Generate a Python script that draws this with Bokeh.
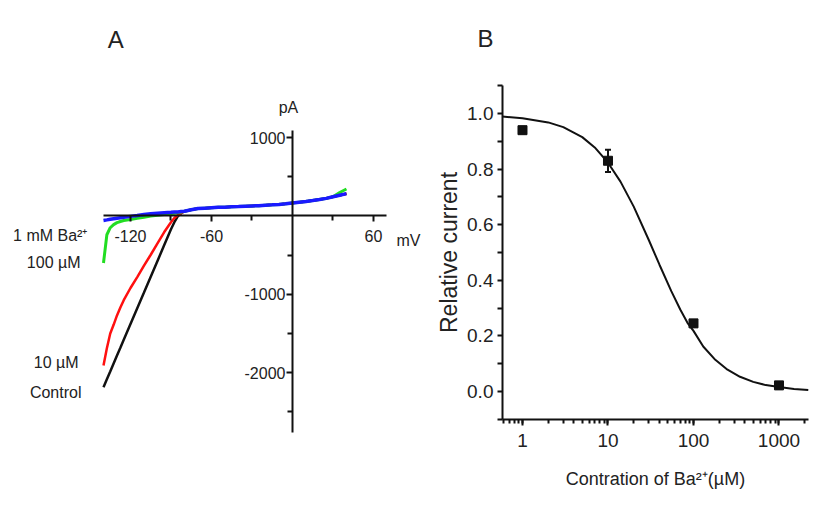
from bokeh.plotting import figure
from bokeh.layouts import row
from bokeh.models import (FixedTicker, LogTicker, PrintfTickFormatter, Label,
                          ColumnDataSource, Whisker, TeeHead)
from bokeh.embed import file_html
from bokeh.resources import INLINE

FONT = "Liberation Sans"
TXT = "#222222"

# ---------------- Panel A data (I-V curves) ----------------
voltage_mv = [-140, -137.5, -135, -132.5, -130, -127.5, -125, -120, -115, -110,
              -105, -100, -95, -90, -87.5, -85, -82.5,
              -80, -75, -70, -65, -60, -55, -50, -45, -40, -35, -30, -25, -20,
              -15, -10, -5, 0, 5, 10, 15, 20, 25, 30, 35, 40]
flat_part = [60, 80, 95, 100, 105, 110, 113, 117, 120, 124, 128, 132, 137,
             142, 148, 155, 165, 175, 185, 197, 210, 225, 245, 265, 285]
control_pa = [-2186, -2085, -1985, -1884, -1783, -1683, -1582, -1380, -1178, -977,
              -775, -574, -372, -170, -80, -5, 35] + flat_part
ba10_pa = [-1909, -1690, -1500, -1390, -1270, -1170, -1075, -920, -780, -635,
           -495, -350, -205, -80, -25, 10, 35] + flat_part
ba100_pa = [-600, -240, -150, -110, -85, -70, -58, -45, -30, -15,
            0, 10, 20, 30, 35, 40, 50] + flat_part[:-2] + [300, 345]
ba1000_pa = [-57, -50, -42, -35, -28, -22, -17, -5, 5, 18,
             28, 36, 42, 47, 50, 52, 56] + flat_part

x_major_a = [-120, -60, 60]
x_minor_a = [-90, -30, 30]
y_major_a = [-2000, -1000, 1000]
y_minor_a = [-2500, -1500, -500, 500]
trace_labels = ["1 mM Ba²⁺", "100 µM", "10 µM", "Control"]

# ---------------- Panel B data (dose response) ----------------
conc_um = [1, 10, 100, 1000]
rel_current = [0.94, 0.83, 0.245, 0.022]
rel_err = [0.012, 0.04, 0.012, 0.012]
fit_conc = [0.58, 1, 2, 3, 5, 7, 10, 14, 20, 30, 40, 55, 70, 85, 100, 130, 180,
            250, 350, 500, 700, 1000, 1500, 2200]
fit_rel = [0.989, 0.983, 0.968, 0.951, 0.915, 0.878, 0.823, 0.755, 0.665, 0.545,
           0.456, 0.361, 0.295, 0.247, 0.218, 0.162, 0.114, 0.0785, 0.053,
           0.0346, 0.023, 0.016, 0.009, 0.0056]
y_major_b = [0.0, 0.2, 0.4, 0.6, 0.8, 1.0]
y_minor_b = [-0.1, 0.1, 0.3, 0.5, 0.7, 0.9, 1.1]


def style_axis(ax, size):
    ax.axis_line_width = 2
    ax.axis_line_color = "#111111"
    ax.major_tick_line_width = 2
    ax.minor_tick_line_width = 2
    ax.major_tick_line_color = "#111111"
    ax.minor_tick_line_color = "#111111"
    ax.major_label_text_font = FONT
    ax.major_label_text_font_size = size
    ax.major_label_text_color = TXT
    ax.major_tick_in = 0
    ax.minor_tick_in = 0


def label(p, x, y, txt, size, align="center"):
    p.add_layout(Label(x=x, y=y, text=txt, text_align=align, text_baseline="middle",
                       text_font=FONT, text_font_size=size, text_color=TXT))


# ---------------- Panel A ----------------
# frame covers the whole figure; axes are pinned at 0 with bounds
pa = figure(width=426, height=512, x_range=(-216.3, 99.3), y_range=(-3787, 2752),
            output_backend="svg", toolbar_location=None,
            min_border_left=0, min_border_right=0, min_border_top=0,
            min_border_bottom=0)
pa.outline_line_color = None
pa.grid.visible = False
xa, ya = pa.xaxis[0], pa.yaxis[0]
xa.fixed_location = 0
ya.fixed_location = 0
xa.bounds = (-140, 70)
ya.bounds = (-2765, 1092)
xa.ticker = FixedTicker(ticks=x_major_a, minor_ticks=x_minor_a)
ya.ticker = FixedTicker(ticks=y_major_a, minor_ticks=y_minor_a)
xa.formatter = PrintfTickFormatter(format="%d")
ya.formatter = PrintfTickFormatter(format="%d")
for ax in (xa, ya):
    style_axis(ax, "16px")
xa.major_tick_out = 6
xa.minor_tick_out = 5
xa.major_label_standoff = 8
ya.major_tick_out = 6
ya.minor_tick_out = 5
ya.major_label_standoff = 1

pa.line(voltage_mv, control_pa, line_color="#111111", line_width=2.5)
pa.line(voltage_mv, ba10_pa, line_color="#ff1010", line_width=2.5)
pa.line(voltage_mv, ba100_pa, line_color="#22dd22", line_width=3)
pa.line(voltage_mv, ba1000_pa, line_color="#1a1aff", line_width=3.5)

label(pa, -151.9, -249, trace_labels[0], "16px", "right")
label(pa, -157, -594, trace_labels[1], "16px", "right")
label(pa, -158.5, -1871, trace_labels[2], "16px", "right")
label(pa, -156.3, -2254, trace_labels[3], "16px", "right")
label(pa, -3, 1386, "pA", "16px")
label(pa, 77.0, -313, "mV", "16px", "left")
label(pa, -131, 2254, "A", "24px")

# ---------------- Panel B ----------------
pb = figure(width=400, height=512, x_axis_type="log",
            x_range=(0.07538, 3594), y_range=(-0.4353, 1.4065),
            output_backend="svg", toolbar_location=None,
            min_border_left=0, min_border_right=0, min_border_top=0,
            min_border_bottom=0)
pb.outline_line_color = None
pb.grid.visible = False
xb, yb = pb.xaxis[0], pb.yaxis[0]
xb.fixed_location = -0.1
yb.fixed_location = 0.583
xb.bounds = (0.583, 2213)
yb.bounds = (-0.1, 1.1)
yb.ticker = FixedTicker(ticks=y_major_b, minor_ticks=y_minor_b)
yb.formatter = PrintfTickFormatter(format="%.1f")
xb.ticker = LogTicker(num_minor_ticks=10)
xb.formatter = PrintfTickFormatter(format="%d")
for ax in (xb, yb):
    style_axis(ax, "19px")
xb.major_tick_out = 6
xb.minor_tick_out = 4
xb.major_label_standoff = 9
yb.major_tick_out = 5
yb.minor_tick_out = 5
yb.major_label_standoff = 4
xb.axis_label = "Contration of Ba²⁺(µM)"
yb.axis_label = "Relative current"
xb.axis_label_text_font = FONT
xb.axis_label_text_font_size = "18px"
xb.axis_label_text_font_style = "normal"
xb.axis_label_text_color = TXT
xb.axis_label_standoff = 18
yb.axis_label_text_font = FONT
yb.axis_label_text_font_size = "23px"
yb.axis_label_text_font_style = "normal"
yb.axis_label_text_color = TXT
yb.axis_label_standoff = 2

pb.line(fit_conc, fit_rel, line_color="#111111", line_width=2)
src = ColumnDataSource(dict(x=conc_um, y=rel_current,
                            lo=[v - e for v, e in zip(rel_current, rel_err)],
                            hi=[v + e for v, e in zip(rel_current, rel_err)]))
pb.add_layout(Whisker(source=src, base="x", lower="lo", upper="hi",
                      line_color="#111111", line_width=2,
                      upper_head=TeeHead(size=6, line_width=2, line_color="#111111"),
                      lower_head=TeeHead(size=6, line_width=2, line_color="#111111")))
pb.scatter("x", "y", source=src, marker="square", size=9, fill_color="#111111",
           line_color="#111111")
label(pb, 0.369, 1.27, "B", "24px")

layout = row(pa, pb)
open("out.html", "w").write(file_html(layout, INLINE))
